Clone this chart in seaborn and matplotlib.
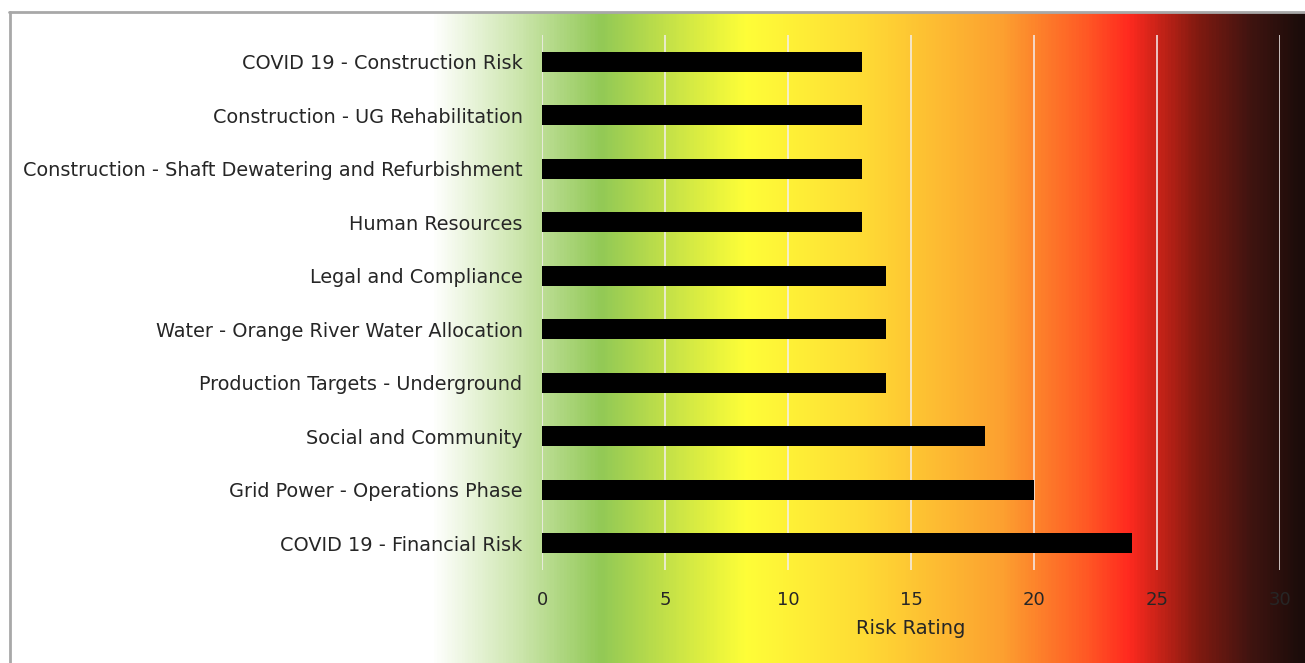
import numpy as np
import pandas as pd
import matplotlib
matplotlib.use('Agg')
from matplotlib import pyplot as plt
from matplotlib.colors import LinearSegmentedColormap
from matplotlib.lines import Line2D
import seaborn as sns

# risk register, top to bottom as shown
risks = ['COVID 19 - Construction Risk',
         'Construction - UG Rehabilitation',
         'Construction - Shaft Dewatering and Refurbishment',
         'Human Resources',
         'Legal and Compliance',
         'Water - Orange River Water Allocation',
         'Production Targets - Underground',
         'Social and Community',
         'Grid Power - Operations Phase',
         'COVID 19 - Financial Risk']
ratings = [13, 13, 13, 13, 14, 14, 14, 18, 20, 24]
xticks = [0, 5, 10, 15, 20, 25, 30]

df = pd.DataFrame({'risk': risks, 'rating': ratings})

sns.set_style('white')
plt.rcParams['font.family'] = ['DejaVu Sans']
txt = '#262626'

W, H = 1305, 663
fig = plt.figure(figsize=(W/100, H/100), dpi=100)

# heat-map style background (white -> green -> yellow -> orange -> red -> black)
stops = [(0.0, '#ffffff'), (0.099, '#cde6ae'), (0.194, '#92c956'),
         (0.36, '#fefe38'), (0.49, '#ffdd35'), (0.655, '#fca030'),
         (0.75, '#ff5a25'), (0.80, '#ff2a1f'), (0.88, '#801a10'),
         (0.94, '#401410'), (1.0, '#1a0c0a')]
cmap = LinearSegmentedColormap.from_list('risk', stops)
bg = fig.add_axes([430/W, 0, 1-430/W, 1-13/H], zorder=0)
bg.imshow(np.linspace(0, 1, 600)[None, :], cmap=cmap, aspect='auto')
bg.axis('off')

# frame of the original slide
fig.add_artist(Line2D([9/W, 1], [1-12/H, 1-12/H], color='#a8a8a8', lw=2))
fig.add_artist(Line2D([10/W, 10/W], [0, 1-12/H], color='#a8a8a8', lw=2))

ax = fig.add_axes([542/W, 1-570/H, (1280-542)/W, (570-35)/H], zorder=1)
ax.set_facecolor('none')
sns.barplot(data=df, x='rating', y='risk', orient='h', color='black',
            width=0.38, saturation=1, linewidth=0, edgecolor='black',
            ax=ax, zorder=3)
ax.set_xlim(0, 30)
ax.set_xticks(xticks)
ax.grid(axis='x', color='#f4eeee', alpha=0.8, lw=1.4, zorder=1)
ax.grid(axis='y', visible=False)
ax.set_axisbelow(True)
for s in ax.spines.values():
    s.set_visible(False)
ax.tick_params(axis='y', length=0, pad=14, labelsize=13.9, labelcolor=txt)
ax.tick_params(axis='x', length=0, pad=15, labelsize=13, labelcolor=txt)
ax.set_ylabel('')
ax.set_xlabel('Risk Rating', fontsize=14, color=txt, labelpad=7)

fig.savefig('out.png', dpi=100)
